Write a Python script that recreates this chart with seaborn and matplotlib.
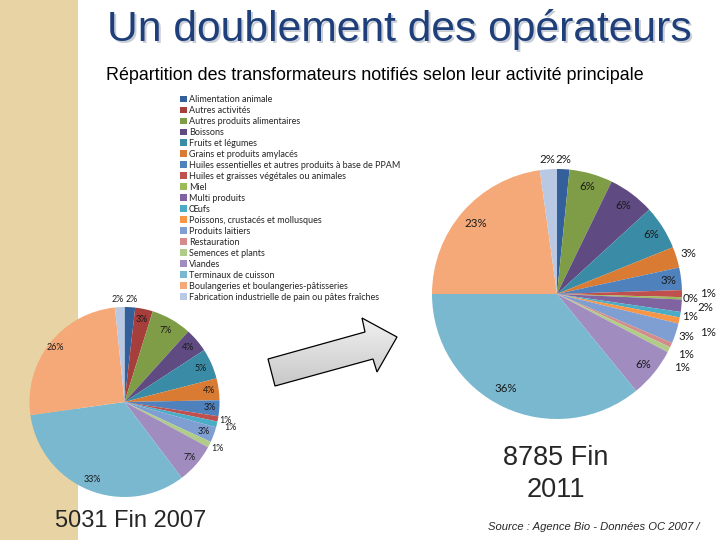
import matplotlib
matplotlib.use("Agg")
import matplotlib.pyplot as plt
from matplotlib.colors import LinearSegmentedColormap
from matplotlib.patches import Patch, Polygon, Rectangle
import numpy as np
import seaborn as sns

categories = [
    "Alimentation animale",
    "Autres activités",
    "Autres produits alimentaires",
    "Boissons",
    "Fruits et légumes",
    "Grains et produits amylacés",
    "Huiles essentielles et autres produits à base de PPAM",
    "Huiles et graisses végétales ou animales",
    "Miel",
    "Multi produits",
    "Œufs",
    "Poissons, crustacés et mollusques",
    "Produits laitiers",
    "Restauration",
    "Semences et plants",
    "Viandes",
    "Terminaux de cuisson",
    "Boulangeries et boulangeries-pâtisseries",
    "Fabrication industrielle de pain ou pâtes fraîches",
]

# parts (%) estimated from slice angles and labels, 0 = absent slice
share_2007 = [1.8, 3.0, 6.9, 4.1, 5.2, 3.7, 2.7, 0.9, 0, 0, 1.0, 0, 2.6, 0,
              1.0, 6.8, 33.1, 25.6, 1.6]
share_2011 = [1.6, 0, 5.6, 6.0, 5.7, 2.7, 2.9, 0.9, 0.3, 1.6, 0.7, 0.8, 2.6,
              0.6, 0.7, 6.4, 35.9, 22.8, 2.2]

colors = [
    "#33609A", "#A63E3B", "#7F9D47", "#5F4A81", "#3A8CA6", "#D97B33",
    "#4F81BD", "#C0504D", "#9BBB59", "#8064A2", "#4BACC6", "#F79646",
    "#7F9FD2", "#D48C8A", "#B0CC88", "#A08CBF", "#7AB8D0", "#F6A978",
    "#B9C9E3",
]

# label placement: fraction of radius, and angle nudge (deg, clockwise)
label_r_2007 = [1.08, 0.89, 0.87, 0.88, 0.88, 0.9, 0.9, 1.08, 1, 1, 1.15,
                1, 0.89, 1, 1.1, 0.9, 0.88, 0.93, 1.08]
label_nudge_2007 = [1, 0, 0, 0, 0, 0, 0, 0, 0, 0, 0, 0, 0, 0, 0, 0, 0, 0, -1]
label_r_2011 = [1.08, 1, 0.89, 0.88, 0.89, 1.1, 0.9, 1.21, 1.07, 1.19, 1.08,
                1.25, 1.09, 1.14, 1.16, 0.89, 0.86, 0.86, 1.08]
label_nudge_2011 = [0, 0, 0, 0, 0, 0, 0, 0, 0, 0, 0, 2, 0, 1, 4, 0, 3, 0, 0]

sns.set_theme(style="white")
plt.rcParams["font.family"] = ["Liberation Sans", "DejaVu Sans"]

W, H = 720, 540
fig = plt.figure(figsize=(W / 100, H / 100), dpi=100)
fig.patch.set_facecolor("white")

# background layer in pixel coordinates (strip + arrow)
bg = fig.add_axes([0, 0, 1, 1], zorder=-5)
bg.set_xlim(0, W)
bg.set_ylim(H, 0)
bg.axis("off")
bg.add_patch(Rectangle((0, 0), 78, H, color="#E7D3A3", lw=0))

arrow_px = [(268, 359), (275, 386), (373, 359), (377, 372), (397, 337),
            (362, 318), (365, 332)]
arrow = Polygon(arrow_px, closed=True, facecolor="none", edgecolor="black",
                lw=0.9, zorder=3)
bg.add_patch(arrow)
grey_ramp = LinearSegmentedColormap.from_list("ramp", ["#F2F2F2", "#C6C6C6"])
grad = np.linspace(0, 1, 64).reshape(-1, 1)
img = bg.imshow(grad, extent=(262, 400, 390, 315), cmap=grey_ramp,
                aspect="auto", zorder=2)
img.set_clip_path(arrow)


def pie_axes(cx, cy, r):
    return fig.add_axes([(cx - r) / W, 1 - (cy + r) / H, 2 * r / W, 2 * r / H])


def draw_pie(ax, values, label_r, nudge, fs):
    keep = [i for i, v in enumerate(values) if v > 0]
    vals = [values[i] for i in keep]
    wedges, _ = ax.pie(vals, colors=[colors[i] for i in keep], startangle=90,
                       counterclock=False, radius=1,
                       wedgeprops=dict(linewidth=0))
    for w, i in zip(wedges, keep):
        ang = np.deg2rad((w.theta1 + w.theta2) / 2 - nudge[i])
        r = label_r[i]
        ax.text(r * np.cos(ang), r * np.sin(ang), f"{values[i]:.0f}%",
                ha="center", va="center", fontsize=fs, family="Lato",
                color="#1a1a1a")
    ax.set_xlim(-1, 1)
    ax.set_ylim(-1, 1)
    ax.axis("off")


ax1 = pie_axes(124.5, 402, 95)
draw_pie(ax1, share_2007, label_r_2007, label_nudge_2007, 6.4)

ax2 = pie_axes(557, 294, 125)
draw_pie(ax2, share_2011, label_r_2011, label_nudge_2011, 8.3)

# legend
handles = [Patch(facecolor=c, edgecolor="none") for c in colors]
fig.legend(handles, categories, loc="upper left",
           bbox_to_anchor=(180 / W, 1 - 95 / H), frameon=False,
           handlelength=0.75, handleheight=0.75,
           handletextpad=0.25, labelspacing=0.22, borderpad=0,
           borderaxespad=0, prop={"family": "Lato", "size": 6.5})

# titles
fig.text(107 / W + 0.0025, 1 - 29 / H - 0.004, "Un doublement des opérateurs",
         fontsize=30.7, color="#C9CDD5", va="center")
fig.text(107 / W, 1 - 29 / H, "Un doublement des opérateurs",
         fontsize=30.7, color="#1F3F7A", va="center")
fig.text(106 / W, 1 - 75 / H,
         "Répartition des transformateurs notifiés selon leur activité principale",
         fontsize=12.9, color="black", va="center")

fig.text(55 / W, 1 - 521 / H, "5031 Fin 2007", fontsize=17, va="center")
fig.text(556 / W, 1 - 458 / H, "8785 Fin", fontsize=19.5, va="center", ha="center")
fig.text(556 / W, 1 - 490 / H, "2011", fontsize=19.5, va="center", ha="center")
fig.text(700 / W, 1 - 527 / H, "Source : Agence Bio - Données OC 2007 /",
         fontsize=8.1, style="italic", va="center", ha="right")
fig.text(717 / W, 1 - 546 / H, "2011", fontsize=8.1, style="italic",
         va="center", ha="right")

fig.savefig("out.png", dpi=100)
